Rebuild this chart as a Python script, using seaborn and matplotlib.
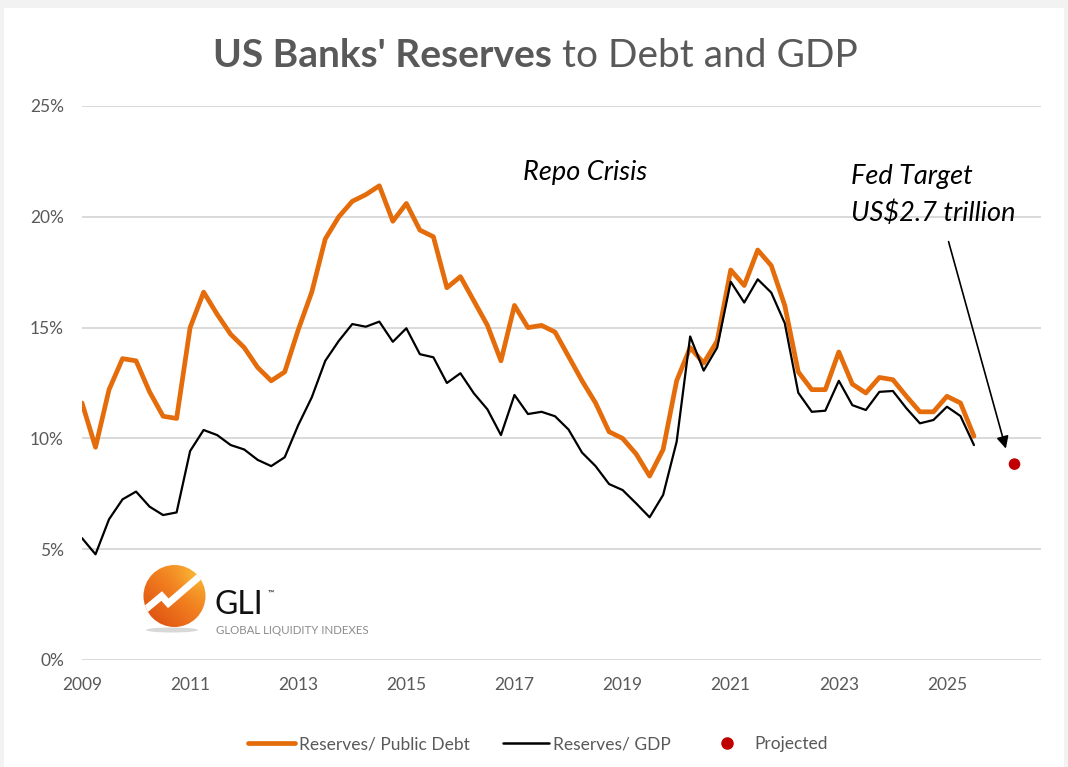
import numpy as np
import pandas as pd
import matplotlib
matplotlib.use("Agg")
import matplotlib.pyplot as plt
import seaborn as sns
from matplotlib.lines import Line2D
from matplotlib.patches import Circle, Ellipse, Rectangle
from matplotlib.colors import LinearSegmentedColormap

# ---------------- data ----------------
quarters = pd.date_range("2009-01-01", periods=67, freq="QS")
reserves_to_debt = [11.6, 9.6, 12.2, 13.6, 13.5, 12.1, 11.0, 10.9,
                    15.0, 16.6, 15.6, 14.7, 14.1, 13.2, 12.6, 13.0,
                    14.9, 16.6, 19.0, 20.0, 20.7, 21.0, 21.4, 19.8,
                    20.6, 19.4, 19.1, 16.8, 17.3, 16.2, 15.1, 13.5,
                    16.0, 15.0, 15.1, 14.8, 13.7, 12.6, 11.6, 10.3,
                    10.0, 9.3, 8.3, 9.5, 12.6, 14.1, 13.4, 14.4,
                    17.6, 16.9, 18.5, 17.8, 16.0, 13.0, 12.2, 12.2,
                    13.9, 12.45, 12.05, 12.75, 12.65, 11.9, 11.2, 11.2,
                    11.9, 11.6, 10.1]
reserves_to_gdp = [5.5, 4.77, 6.35, 7.25, 7.6, 6.92, 6.54, 6.66,
                   9.43, 10.38, 10.15, 9.7, 9.5, 9.03, 8.75, 9.15,
                   10.6, 11.85, 13.5, 14.4, 15.16, 15.04, 15.27, 14.36,
                   14.97, 13.8, 13.66, 12.5, 12.94, 12.03, 11.31, 10.15,
                   11.96, 11.1, 11.2, 11.0, 10.4, 9.36, 8.75, 7.94,
                   7.67, 7.07, 6.44, 7.45, 9.85, 14.6, 13.06, 14.1,
                   17.07, 16.13, 17.18, 16.58, 15.2, 12.06, 11.2, 11.25,
                   12.6, 11.5, 11.28, 12.1, 12.14, 11.36, 10.68, 10.83,
                   11.43, 11.01, 9.7]
projected_x = [2026.25]
projected_value = [8.84]
year_ticks = [2009, 2011, 2013, 2015, 2017, 2019, 2021, 2023, 2025]
pct_ticks = [0, 5, 10, 15, 20, 25]
series_labels = ["Reserves/ Public Debt", "Reserves/ GDP", "Projected"]

xdec = quarters.year + (quarters.month - 1) / 12.0

# ---------------- style ----------------
sns.set_theme(style="white")
plt.rcParams['font.family'] = ['Lato', 'DejaVu Sans']

W, H = 1068, 767
ORANGE = '#E46C0A'
TXT = '#595959'
fig = plt.figure(figsize=(W / 100, H / 100), dpi=100, facecolor='#f2f2f2')
fig.add_artist(Rectangle((4 / W, 0), (1064 - 4) / W, (767 - 8) / H,
                         transform=fig.transFigure, facecolor='white',
                         edgecolor='none', zorder=-10))

ax = fig.add_axes([82 / W, 1 - 660 / H, (1041 - 82) / W, (660 - 106) / H])
ax.set_facecolor('none')

sns.lineplot(x=xdec, y=reserves_to_debt, color=ORANGE, lw=3.4, ax=ax, zorder=3)
sns.lineplot(x=xdec, y=reserves_to_gdp, color='black', lw=1.6, ax=ax, zorder=4)
sns.scatterplot(x=projected_x, y=projected_value, color='#C00000', s=70,
                edgecolor='none', ax=ax, zorder=5)

ax.set_xlim(2009, 2026.74)
ax.set_ylim(0, 25)
ax.set_yticks(pct_ticks)
ax.set_yticklabels([f"{v}%" for v in pct_ticks])
ax.set_xticks(year_ticks)
ax.set_xticklabels([str(y) for y in year_ticks])
ax.yaxis.grid(True, color='#d9d9d9', lw=1.4)
ax.xaxis.grid(False)
ax.set_axisbelow(True)
for s in ax.spines.values():
    s.set_visible(False)
ax.tick_params(axis='y', length=0, pad=13, labelsize=12.5, labelcolor=TXT)
ax.tick_params(axis='x', length=0, pad=12, labelsize=12.5, labelcolor=TXT)
ax.set_xlabel("")
ax.set_ylabel("")

# annotations
ax.text(2018.30, 22.02, "Repo Crisis", style='italic', fontsize=19.5,
        color='black', ha='center', va='center')
ax.text(2023.22, 21.84, "Fed Target", style='italic', fontsize=19.5,
        color='black', ha='left', va='center')
ax.text(2023.22, 20.17, "US$2.7 trillion", style='italic', fontsize=19.5,
        color='black', ha='left', va='center')
ax.annotate("", xy=(2026.09, 9.54), xytext=(2025.03, 18.88),
            arrowprops=dict(arrowstyle='-|>', color='black', lw=1.2,
                            mutation_scale=18, shrinkA=0, shrinkB=0))

# title (bold + regular)
r = fig.canvas.get_renderer()
ty = 1 - 67 / H
t1 = fig.text(0, ty, "US Banks' Reserves", fontsize=28, fontweight='bold',
              color=TXT, ha='left', va='baseline')
t2 = fig.text(0, ty, " to Debt and GDP", fontsize=28, color=TXT,
              ha='left', va='baseline')
w1 = t1.get_window_extent(r).width
w2 = t2.get_window_extent(r).width
x0 = (535 - (w1 + w2) / 2) / W
t1.set_x(x0)
t2.set_x(x0 + w1 / W)

# legend
handles = [Line2D([], [], color=ORANGE, lw=3.4),
           Line2D([], [], color='black', lw=1.8),
           Line2D([], [], color='#C00000', marker='o', ms=8, ls='none')]
fig.legend(handles, series_labels, loc='center',
           bbox_to_anchor=(538 / W, 1 - 744 / H), ncol=3, frameon=False,
           fontsize=12.5, handlelength=2.7, handletextpad=0.2,
           columnspacing=1.9, labelcolor=TXT)

# GLI logo
lax = fig.add_axes([138 / W, 1 - 636 / H, 74 / W, 76 / H])
lax.set_xlim(138, 212)
lax.set_ylim(636, 560)
lax.set_aspect('equal')
lax.axis('off')
lax.add_patch(Ellipse((172, 630), 52, 5, color='#bfbfbf', alpha=0.6, lw=0))
gx, gy = np.meshgrid(np.linspace(0, 1, 100), np.linspace(0, 1, 100))
grad = np.clip((gx + (1 - gy)) / 2 + 0.15 * np.exp(-((gx - 0.8) ** 2 + (gy - 0.2) ** 2) / 0.05), 0, 1)
cmap = LinearSegmentedColormap.from_list('gli', ['#d9480f', '#f07a1e', '#f9b233'])
im = lax.imshow(grad, cmap=cmap, extent=(143, 206, 627, 565), zorder=1)
circ = Circle((174.5, 596), 31, transform=lax.transData, facecolor='none', edgecolor='none')
lax.add_patch(circ)
im.set_clip_path(circ)
lax.plot([140, 161.7, 168.3, 200], [614, 596, 603.3, 576], color='white',
         lw=5, solid_joinstyle='miter', zorder=2, clip_path=circ)
fig.text(214 / W, 1 - 605 / H, "GLI", fontsize=23, color='#111111',
         ha='left', va='center', fontweight='normal')
fig.text(268 / W, 1 - 593 / H, "™", fontsize=6, color='#111111',
         ha='left', va='center')
fig.text(216 / W, 1 - 630 / H, "GLOBAL LIQUIDITY INDEXES", fontsize=8.3,
         color='#8c8c8c', ha='left', va='center')

fig.savefig("out.png", dpi=100, facecolor=fig.get_facecolor())
